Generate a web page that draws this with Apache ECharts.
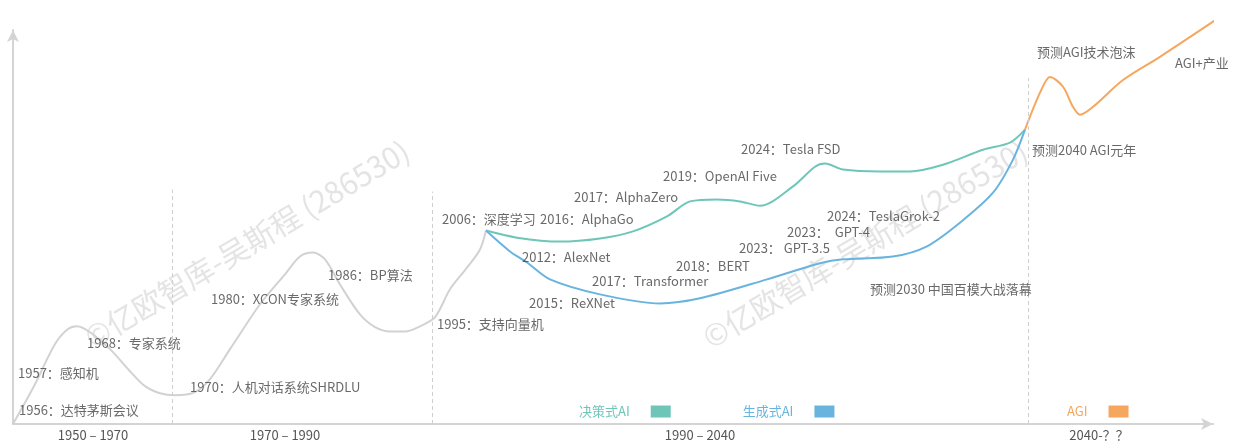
<!DOCTYPE html>
<html>
<head>
<meta charset="utf-8">
<script src="https://cdn.jsdelivr.net/npm/echarts@6/dist/echarts.min.js"></script>
<style>
  html, body { margin: 0; padding: 0; background: #fff; }
  #main { width: 1235px; height: 442px; }
</style>
</head>
<body>
<div id="main"></div>
<script>
// 时间段标签 (x 轴位置)
var periodLabels = ["1950 – 1970", "1970 – 1990", "1990 – 2040", "2040-？？"];
var periodPos = [8.0, 27.2, 68.7, 108.6];

// 分隔虚线
var dividerX = [15.9, 41.9, 101.5];
var dividerTop = [59.5, 59, 87.8];

// 早期发展曲线
var earlyLine = [
  [0, 0], [2.2, 10.1], [4.2, 20.3], [5.5, 24.1], [6.4, 24.8], [7.7, 23.3],
  [9.7, 19.0], [11.7, 13.4], [13.2, 9.6], [14.7, 7.8], [16.2, 7.3], [18.2, 8.1],
  [19.7, 11.4], [21.7, 19.0], [24.7, 30.4], [27.2, 38.0], [28.7, 42.5], [30.0, 43.5],
  [31.2, 41.8], [32.7, 35.4], [34.7, 27.8], [36.2, 24.6], [37.7, 23.5], [39.2, 23.5],
  [40.7, 24.8], [42.2, 27.1], [43.7, 34.2], [45.4, 39.7], [46.7, 44.3], [47.3, 49.1]
];

// 决策式AI
var decisionLine = [
  [47.3, 49.1], [50.4, 47.3], [54.7, 46.3], [58.7, 47.1], [62.0, 48.9], [65.4, 52.7],
  [67.7, 56.5], [70.4, 57.0], [72.7, 56.5], [74.7, 55.4], [78.0, 60.3], [80.2, 65.3],
  [81.2, 66.1], [83.0, 64.6], [86.7, 64.1], [89.7, 64.1], [93.0, 65.8], [97.0, 69.6],
  [99.7, 71.4], [101.2, 74.7]
];

// 生成式AI
var generativeLine = [
  [47.3, 49.1], [49.7, 43.8], [51.4, 41.0], [53.7, 36.7], [58.7, 32.9], [64.7, 30.6],
  [68.7, 31.9], [75.4, 36.7], [80.7, 40.8], [83.0, 41.8], [88.0, 42.5], [91.4, 45.1],
  [94.7, 51.1], [98.0, 58.7], [100.0, 67.1], [101.2, 74.7]
];

// AGI
var agiLine = [
  [101.2, 74.7], [102.7, 84.1], [103.7, 88.1], [105.0, 85.6], [106.0, 80.5], [106.7, 78.5],
  [108.0, 80.5], [111.0, 87.3], [114.7, 93.2], [121.0, 103.8]
];

// 事件标注 [x, y, 文字]
var events = [
  [0.6, 3.5, "1956：达特茅斯会议"],
  [0.5, 12.9, "1957：感知机"],
  [7.4, 20.5, "1968：专家系统"],
  [17.7, 9.4, "1970：人机对话系统SHRDLU"],
  [19.8, 31.6, "1980：XCON专家系统"],
  [31.5, 37.7, "1986：BP算法"],
  [42.4, 25.3, "1995：支持向量机"],
  [42.9, 51.9, "2006：深度学习"],
  [52.7, 51.9, "2016：AlphaGo"],
  [56.1, 57.7, "2017：AlphaZero"],
  [65.0, 63.0, "2019：OpenAI Five"],
  [72.8, 69.9, "2024：Tesla FSD"],
  [50.9, 42.3, "2012：AlexNet"],
  [57.9, 36.2, "2017：Transformer"],
  [51.6, 30.6, "2015：ReXNet"],
  [66.3, 40.0, "2018：BERT"],
  [72.6, 44.6, "2023： GPT-3.5"],
  [77.4, 48.6, "2023：  GPT-4"],
  [81.4, 52.9, "2024：TeslaGrok-2"],
  [85.7, 34.2, "预测2030 中国百模大战落幕"],
  [101.9, 69.6, "预测2040 AGI元年"],
  [102.4, 94.4, "预测AGI技术泡沫"],
  [116.2, 91.6, "AGI+产业"]
];

var colors = { gray: "#d2d2d2", decision: "#6ec6b9", generative: "#68b4df", agi: "#f6a75e" };
var font = "'Noto Sans CJK SC', 'Noto Sans', sans-serif";

var chart = echarts.init(document.getElementById("main"));

var dividerData = dividerX.map(function (x, i) {
  return [{ coord: [x, 0] }, { coord: [x, dividerTop[i]] }];
});

chart.setOption({
  animation: false,
  textStyle: { fontFamily: font },
  grid: { left: 13, right: 22, top: 30, bottom: 17 },
  legend: [
    {
      left: 574, top: 400, align: "right", itemGap: 72,
      itemWidth: 20, itemHeight: 12, icon: "rect",
      textStyle: { fontSize: 13, padding: [0, 16, 0, 0] },
      data: [
        { name: "决策式AI", textStyle: { color: colors.decision } },
        { name: "生成式AI", textStyle: { color: colors.generative } }
      ]
    },
    {
      left: 1062, top: 400, align: "right",
      itemWidth: 20, itemHeight: 12, icon: "rect",
      textStyle: { fontSize: 13, padding: [0, 16, 0, 0] },
      data: [{ name: "AGI", textStyle: { color: colors.agi } }]
    }
  ],
  graphic: [
    {
      type: "text", x: 247, y: 244, rotation: 31 * Math.PI / 180,
      style: { text: "©亿欧智库-吴斯程 (286530)", fontSize: 30, fill: "#e4e4e4", fontFamily: font, align: "center", verticalAlign: "middle" },
      silent: true, z: 0
    },
    {
      type: "text", x: 865, y: 244, rotation: 31 * Math.PI / 180,
      style: { text: "©亿欧智库-吴斯程 (286530)", fontSize: 30, fill: "#e4e4e4", fontFamily: font, align: "center", verticalAlign: "middle" },
      silent: true, z: 0
    }
  ],
  xAxis: {
    type: "value", min: 0, max: 120,
    axisLine: { show: true, lineStyle: { color: "#d4d4d4", width: 2 }, symbol: ["none", "arrow"], symbolSize: [9, 12] },
    axisTick: { show: false },
    splitLine: { show: false },
    axisLabel: {
      customValues: periodPos, margin: 5, fontSize: 13, color: "#555",
      formatter: function (v) {
        var i = periodPos.indexOf(v);
        return i >= 0 ? periodLabels[i] : "";
      }
    }
  },
  yAxis: {
    type: "value", min: 0, max: 100,
    axisLine: { show: true, lineStyle: { color: "#d4d4d4", width: 2 }, symbol: ["none", "arrow"], symbolSize: [9, 12] },
    axisTick: { show: false },
    splitLine: { show: false },
    axisLabel: { show: false }
  },
  series: [
    {
      name: "早期", type: "line", data: earlyLine, smooth: 0.3, showSymbol: false,
      lineStyle: { color: colors.gray, width: 2 }, z: 2,
      markLine: {
        silent: true, symbol: "none", label: { show: false },
        lineStyle: { color: "#cfcfcf", width: 1, type: [4, 3] },
        data: dividerData
      }
    },
    {
      name: "决策式AI", type: "line", data: decisionLine, smooth: 0.3, showSymbol: false,
      color: colors.decision, lineStyle: { color: colors.decision, width: 2 }, z: 3
    },
    {
      name: "生成式AI", type: "line", data: generativeLine, smooth: 0.3, showSymbol: false,
      color: colors.generative, lineStyle: { color: colors.generative, width: 2 }, z: 3
    },
    {
      name: "AGI", type: "line", data: agiLine, smooth: 0.3, showSymbol: false, clip: false,
      color: colors.agi, lineStyle: { color: colors.agi, width: 2 }, z: 3
    },
    {
      name: "事件", type: "scatter", symbolSize: 0, data: events, z: 5,
      label: {
        show: true, position: "right", distance: 0,
        fontSize: 13, color: "#444",
        formatter: function (p) { return p.data[2]; }
      }
    }
  ]
});
</script>
</body>
</html>
